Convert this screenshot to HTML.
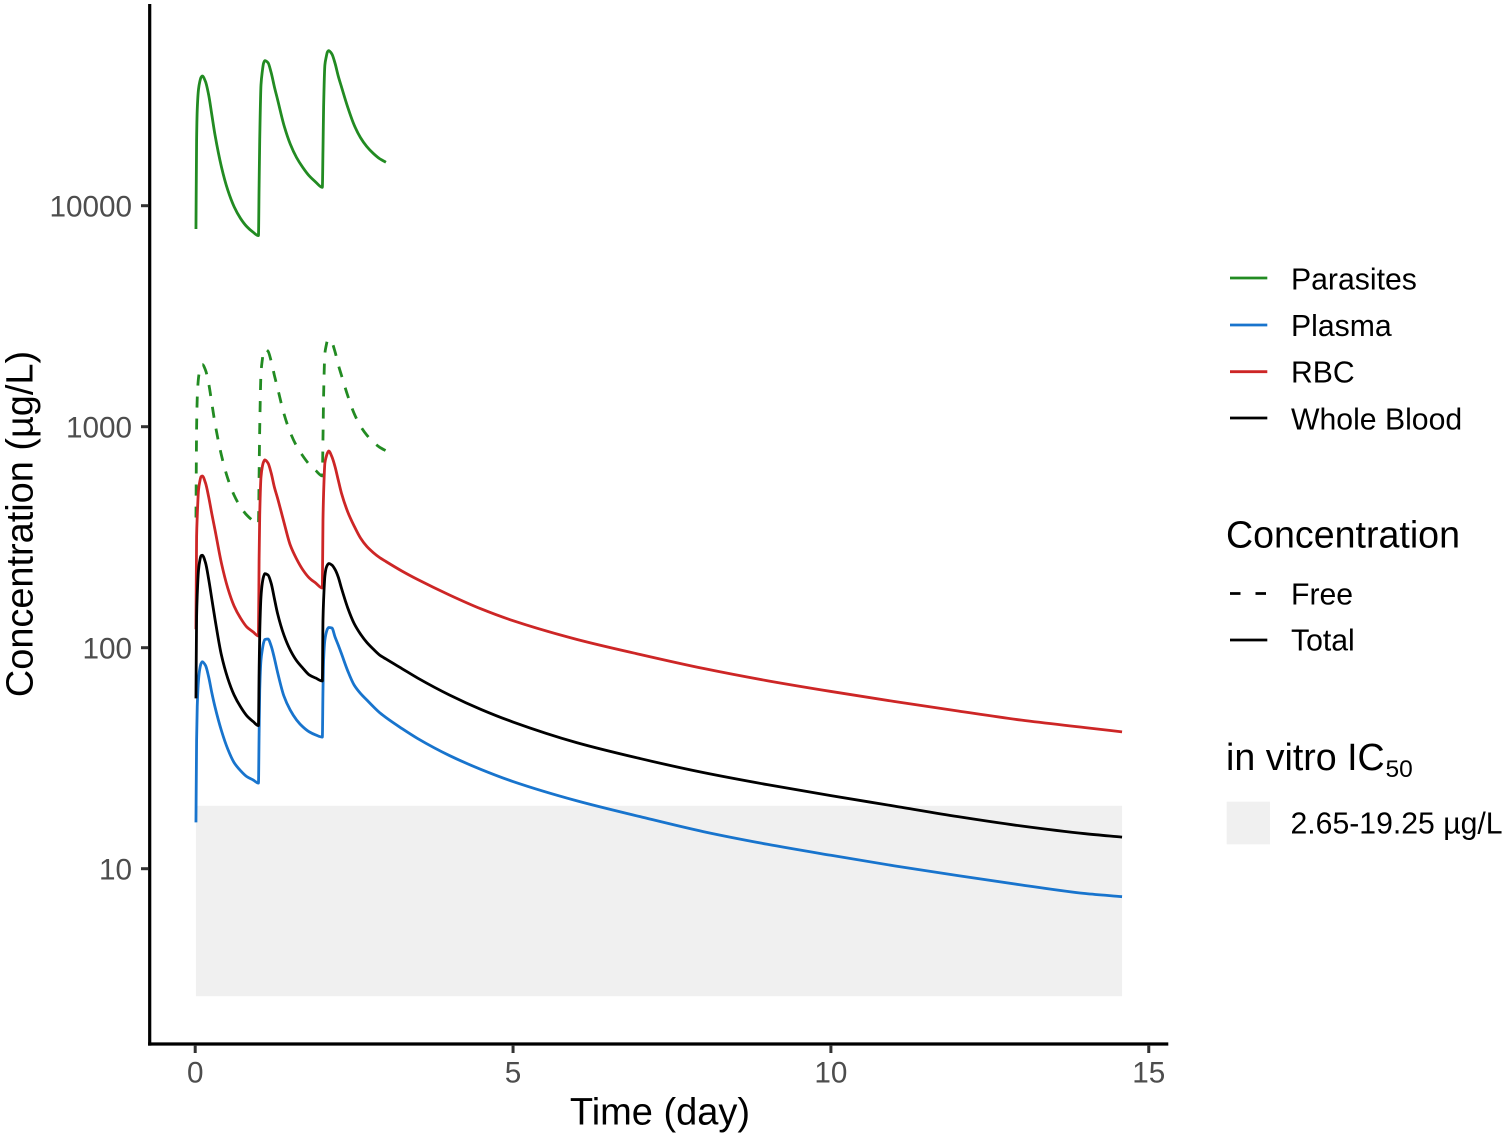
<!DOCTYPE html>
<html lang="en">
<head>
<meta charset="utf-8">
<title>Concentration over time</title>
<style>
html,body{margin:0;padding:0;background:#fff;}
svg{display:block;}
text{font-family:"Liberation Sans",Arial,sans-serif;}
</style>
</head>
<body>
<svg id="chart" xmlns="http://www.w3.org/2000/svg" width="1508" height="1138" viewBox="0 0 1508 1138">
  <rect x="0" y="0" width="1508" height="1138" fill="#ffffff"/>
  <g id="ic50-layer"></g>
  <g id="series-layer"></g>
  <g id="axis-layer">
    <line x1="149.7" y1="4" x2="149.7" y2="1045.6" stroke="#000" stroke-width="3.2"/>
    <line x1="148.1" y1="1044" x2="1168.3" y2="1044" stroke="#000" stroke-width="3.2"/>
  </g>
  <text x="660" y="1124.5" font-size="38" text-anchor="middle" fill="#000">Time (day)</text>
  <text transform="translate(32.5,524) rotate(-90)" font-size="37.9" text-anchor="middle" fill="#000">Concentration (µg/L)</text>

  <g>
    <g>
      <line x1="1230" y1="278" x2="1267.3" y2="278" stroke="#228B22" stroke-width="2.8"/>
      <text x="1291" y="289.3" font-size="30.2" fill="#000">Parasites</text>
    </g>
    <g>
      <line x1="1230" y1="325" x2="1267.3" y2="325" stroke="#1874CD" stroke-width="2.8"/>
      <text x="1291" y="336" font-size="30.2" fill="#000">Plasma</text>
    </g>
    <g>
      <line x1="1230" y1="371.7" x2="1267.3" y2="371.7" stroke="#CD2626" stroke-width="2.8"/>
      <text x="1291" y="382.7" font-size="30.2" fill="#000">RBC</text>
    </g>
    <g>
      <line x1="1230" y1="418" x2="1267.3" y2="418" stroke="#000" stroke-width="2.8"/>
      <text x="1291" y="429.3" font-size="30.2" fill="#000">Whole Blood</text>
    </g>
  </g>

  <g>
    <text x="1226" y="547.5" font-size="37.6" fill="#000">Concentration</text>
    <g>
      <line x1="1230" y1="593.5" x2="1267.3" y2="593.5" stroke="#000" stroke-width="2.8" stroke-dasharray="10.5 15"/>
      <text x="1291" y="604.3" font-size="30.2" fill="#000">Free</text>
    </g>
    <g>
      <line x1="1230" y1="640" x2="1267.3" y2="640" stroke="#000" stroke-width="2.8"/>
      <text x="1291" y="650.7" font-size="30.2" fill="#000">Total</text>
    </g>
  </g>

  <g>
    <text x="1226" y="770" font-size="37.6" fill="#000">in vitro IC</text>
    <text x="1385.5" y="777" font-size="24.5" fill="#000">50</text>
    <rect x="1226.7" y="801.7" width="43.3" height="42.6" fill="#f0f0f0"/>
    <text x="1290.5" y="833.3" font-size="30.2" fill="#000">2.65-19.25 µg/L</text>
  </g>
</svg>
<script>
// ---- Chart data ----
const xTicks = [0, 5, 10, 15];
const yTicks = [10, 100, 1000, 10000];
const ic50Low = 2.65;
const ic50High = 19.25;
const ic50Start = 0.012;
const ic50End = 14.58;

const timeDosing = [0.012,0.022,0.032,0.052,0.072,0.092,0.112,0.162,0.212,0.262,0.312,0.412,0.512,0.612,0.712,0.812,0.912,0.995,
  1.005,1.015,1.035,1.055,1.075,1.095,1.145,1.195,1.245,1.295,1.395,1.495,1.595,1.695,1.795,1.895,2.0,
  2.01,2.02,2.04,2.06,2.08,2.1,2.15,2.2,2.25,2.3,2.4,2.5,2.6,2.7,2.8,2.9,3.0];
const timeTail = [3.25,3.5,4,4.5,5,6,7,8,9,10,11,12,13,14,14.58];

const parasitesTotal = [7849,19830,27110,33620,36420,38100,38630,36420,31690,25730,20880,15020,11780,9900,8770,8040,7580,7320,
  12200,19830,35180,40400,44080,45330,44380,39990,34570,30290,23190,19020,16500,14860,13630,12800,12110,
  17870,28060,43320,46930,49600,50290,48580,44080,38630,34570,27870,23190,20320,18500,17260,16330,15720];
const parasitesFree = [388,982,1342,1664,1803,1886,1912,1803,1569,1274,1034,744,583,490,434,398,375,362,
  604,982,1741,2000,2182,2244,2197,1980,1711,1499,1148,942,817,736,675,634,599,
  885,1389,2144,2323,2455,2489,2405,2182,1912,1711,1380,1148,1006,916,854,808,778];
const plasmaDosing = [16.2,38.2,54.1,71.4,80.1,84.8,86.4,83.1,73.7,62.4,53.9,42.2,34.8,30.2,27.8,26.1,25.2,24.4,
  40.3,64.4,88.0,97.6,105.0,108.9,109.5,101.8,89.8,77.6,60.5,52.2,47.1,43.8,41.6,40.3,39.4,
  64.4,88.0,108.4,116.5,121.5,123.4,122.8,111.8,102.8,94.1,78.5,67.8,62.1,58.0,54.2,50.9,48.3];
const plasmaTail = [43.1,38.8,32.5,28.1,24.8,20.3,17.2,14.7,12.9,11.5,10.3,9.30,8.44,7.72,7.47];
const rbcDosing = [121.2,317.9,391.6,517.2,564.0,594.2,598.4,556.4,480.8,402.7,340.9,241.7,186.3,154.4,136.3,124.1,117.8,113.0,
  249.4,398.6,592.3,657.2,692.3,707.1,685.1,617.2,533.6,475.8,370.6,291.5,252.0,224.7,206.7,196.2,186.3,
  378.4,501.2,685.1,729.3,760.3,776.5,731.6,659.2,574.1,501.2,411.3,355.4,313.6,287.1,269.6,256.0,245.5];
const rbcTail = [222.4,203.5,173.2,149.7,132.5,109.1,93.2,80.5,70.9,63.4,57.1,51.7,47.0,43.5,41.6];
const wholeBloodDosing = [59.0,138.1,173.2,224.7,247.6,260.8,261.9,242.4,204.0,165.6,134.5,92.7,72.7,61.1,54.1,49.2,46.3,44.4,
  76.6,116.2,170.2,195.6,209.6,216.2,213.3,195.6,167.3,143.1,114.2,97.6,87.3,80.7,75.3,72.9,70.7,
  133.5,164.4,211.1,229.5,236.7,240.4,236.7,225.9,208.9,186.3,151.3,128.7,115.3,105.6,98.6,92.7,88.9];
const wholeBloodTail = [80.5,72.9,61.1,52.5,46.1,37.2,31.5,27.2,24.0,21.4,19.2,17.2,15.6,14.4,13.9];

// ---- Axis functions ----
function xScale(t) { return 195.2 + 63.57 * t; }
function yScale(v) { return 868.7 - 221 * (Math.log10(v) - 1); }

const SVG_NS = 'http://www.w3.org/2000/svg';

// ---- IC50 band ----
const icLayer = document.getElementById('ic50-layer');
const icRect = document.createElementNS(SVG_NS, 'rect');


icRect.setAttribute('x', xScale(ic50Start));
icRect.setAttribute('y', yScale(ic50High));
icRect.setAttribute('width', xScale(ic50End) - xScale(ic50Start));
icRect.setAttribute('height', yScale(ic50Low) - yScale(ic50High));
icRect.setAttribute('fill', '#f0f0f0');
icLayer.appendChild(icRect);

// ---- Series: monotone cubic through the data points, so peaks stay rounded ----
function smoothPath(xs, ys) {
  const n = xs.length;
  const slopes = [];
  for (let i = 0; i < n - 1; i++) slopes.push((ys[i + 1] - ys[i]) / (xs[i + 1] - xs[i]));
  const m = [slopes[0]];
  for (let i = 1; i < n - 1; i++) {
    if (slopes[i - 1] * slopes[i] <= 0) {
      m.push(0);
    } else {
      const h0 = xs[i] - xs[i - 1], h1 = xs[i + 1] - xs[i];
      const w1 = 2 * h1 + h0, w2 = h1 + 2 * h0;
      m.push((w1 + w2) / (w1 / slopes[i - 1] + w2 / slopes[i]));
    }
  }
  m.push(slopes[n - 2]);
  let d = 'M' + xs[0].toFixed(2) + ' ' + ys[0].toFixed(2);
  for (let i = 0; i < n - 1; i++) {
    const h = (xs[i + 1] - xs[i]) / 3;
    d += 'C' + (xs[i] + h).toFixed(2) + ' ' + (ys[i] + m[i] * h).toFixed(2) + ' ' +
      (xs[i + 1] - h).toFixed(2) + ' ' + (ys[i + 1] - m[i + 1] * h).toFixed(2) + ' ' +
      xs[i + 1].toFixed(2) + ' ' + ys[i + 1].toFixed(2);
  }
  return d;
}

const seriesLayer = document.getElementById('series-layer');
function drawLine(name, times, values, color, dash) {
  const path = document.createElementNS(SVG_NS, 'path');
  
  
  path.setAttribute('d', smoothPath(times.map(xScale), values.map(yScale)));
  path.setAttribute('fill', 'none');
  path.setAttribute('stroke', color);
  path.setAttribute('stroke-width', '2.8');
  path.setAttribute('stroke-linejoin', 'round');
  if (dash) path.setAttribute('stroke-dasharray', dash);
  seriesLayer.appendChild(path);
}
const timeFull = timeDosing.concat(timeTail);
drawLine('line-parasites-total', timeDosing, parasitesTotal, '#228B22');
drawLine('line-parasites-free', timeDosing, parasitesFree, '#228B22', '11 11');
drawLine('line-plasma-total', timeFull, plasmaDosing.concat(plasmaTail), '#1874CD');
drawLine('line-rbc-total', timeFull, rbcDosing.concat(rbcTail), '#CD2626');
drawLine('line-whole-blood-total', timeFull, wholeBloodDosing.concat(wholeBloodTail), '#000000');

// ---- Ticks ----
const axisLayer = document.getElementById('axis-layer');
xTicks.forEach(function (tick) {
  const tx = xScale(tick);
  const mark = document.createElementNS(SVG_NS, 'line');
  
  
  mark.setAttribute('x1', tx);
  mark.setAttribute('x2', tx);
  mark.setAttribute('y1', 1045);
  mark.setAttribute('y2', 1053);
  mark.setAttribute('stroke', '#333333');
  mark.setAttribute('stroke-width', '3');
  axisLayer.appendChild(mark);
  const label = document.createElementNS(SVG_NS, 'text');
  
  
  label.setAttribute('x', tx);
  label.setAttribute('y', 1082.5);
  label.setAttribute('font-size', '29.7');
  label.setAttribute('text-anchor', 'middle');
  label.setAttribute('fill', '#4d4d4d');
  label.textContent = String(tick);
  axisLayer.appendChild(label);
});
yTicks.forEach(function (tick) {
  const ty = yScale(tick);
  const mark = document.createElementNS(SVG_NS, 'line');
  
  
  mark.setAttribute('x1', 141);
  mark.setAttribute('x2', 148.5);
  mark.setAttribute('y1', ty);
  mark.setAttribute('y2', ty);
  mark.setAttribute('stroke', '#333333');
  mark.setAttribute('stroke-width', '3');
  axisLayer.appendChild(mark);
  const label = document.createElementNS(SVG_NS, 'text');
  
  
  label.setAttribute('x', 132);
  label.setAttribute('y', ty + 10.8);
  label.setAttribute('font-size', '29.7');
  label.setAttribute('text-anchor', 'end');
  label.setAttribute('fill', '#4d4d4d');
  label.textContent = String(tick);
  axisLayer.appendChild(label);
});
</script>
</body>
</html>
